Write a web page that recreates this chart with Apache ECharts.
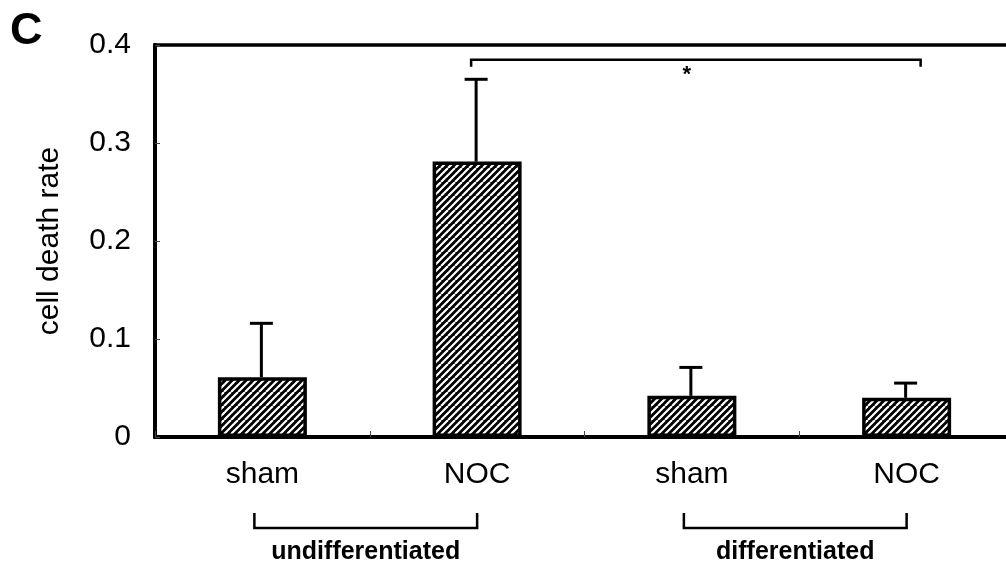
<!DOCTYPE html>
<html>
<head>
<meta charset="utf-8">
<script src="https://cdn.jsdelivr.net/npm/echarts@6/dist/echarts.min.js"></script>
<style>
  html, body { margin: 0; padding: 0; background: #fff; }
  #chart { width: 1006px; height: 570px; }
</style>
</head>
<body>
<div id="chart"></div>
<script>
// data
var categories = ['sham', 'NOC', 'sham', 'NOC'];
var means = [0.061, 0.281, 0.042, 0.040];
var errors = [0.055, 0.084, 0.029, 0.015];
var yTickLabels = ['0', '0.1', '0.2', '0.3', '0.4'];
var groupLabels = ['undifferentiated', 'differentiated'];
var groupStart = [0, 2];
var groupEnd = [1, 3];
var sigPair = [1, 3];
var sigLevel = 0.385;
var sigMark = '*';

var FONT = '"Liberation Sans", Arial, Helvetica, sans-serif';

// hatch pattern: black with white "/" stripes
function hatch() {
  var T = 14;
  var c = document.createElement('canvas');
  c.width = T; c.height = T;
  var ctx = c.getContext('2d');
  ctx.fillStyle = '#000';
  ctx.fillRect(0, 0, T, T);
  ctx.strokeStyle = '#fff';
  ctx.lineWidth = 2.2;
  for (var o = -T; o <= T; o += T / 2) {
    ctx.beginPath();
    ctx.moveTo(o, T);
    ctx.lineTo(o + T, 0);
    ctx.stroke();
  }
  return c;
}

var chart = echarts.init(document.getElementById('chart'));

var option = {
  animation: false,
  backgroundColor: '#fff',
  title: {
    text: 'C',
    left: 10,
    top: 9,
    padding: 0,
    textStyle: { fontSize: 45, fontWeight: 'bold', fontFamily: FONT, color: '#000' }
  },
  grid: {
    left: 155,
    top: 45,
    width: 859,
    height: 392,
    outerBoundsMode: 'none',
    containLabel: false,
    show: true,
    borderColor: '#000',
    borderWidth: 3.5,
    backgroundColor: 'transparent'
  },
  xAxis: {
    type: 'category',
    data: categories,
    axisLine: { lineStyle: { color: '#000', width: 4 } },
    axisTick: { show: true, inside: true, length: 6, interval: 0, lineStyle: { color: '#444', width: 1 } },
    axisLabel: { margin: 23, fontSize: 30, fontFamily: FONT, color: '#000' },
    splitLine: { show: false }
  },
  yAxis: {
    type: 'value',
    min: 0,
    max: 0.4,
    interval: 0.1,
    name: 'cell death rate',
    nameLocation: 'middle',
    nameRotate: 90,
    nameGap: 90,
    nameTextStyle: { fontSize: 30, fontFamily: FONT, color: '#000' },
    axisLine: { show: true, lineStyle: { color: '#000', width: 4 } },
    axisTick: { show: true, inside: true, length: 5, lineStyle: { color: '#444', width: 1 } },
    axisLabel: {
      margin: 24,
      fontSize: 30,
      fontFamily: FONT,
      color: '#000',
      formatter: function (v) { return yTickLabels[Math.round(v * 10)]; }
    },
    splitLine: { show: false }
  },
  series: [
    {
      type: 'bar',
      data: means,
      barWidth: 89,
      itemStyle: {
        color: { image: hatch(), repeat: 'repeat' },
        borderColor: '#000',
        borderWidth: 3.5
      },
      z: 3
    },
    {
      // error bars (upper only)
      type: 'custom',
      data: means.map(function (m, i) { return [i, m, errors[i]]; }),
      z: 2,
      renderItem: function (params, api) {
        var base = api.coord([api.value(0), api.value(1)]);
        var top = api.coord([api.value(0), api.value(1) + api.value(2)]);
        var x = base[0] - 1;
        return {
          type: 'group',
          children: [
            { type: 'line', shape: { x1: x, y1: base[1], x2: x, y2: top[1] }, style: { stroke: '#000', lineWidth: 3 } },
            { type: 'line', shape: { x1: x - 11.5, y1: top[1], x2: x + 11.5, y2: top[1] }, style: { stroke: '#000', lineWidth: 3 } }
          ]
        };
      }
    },
    {
      // significance bracket
      type: 'custom',
      clip: false,
      data: [[sigPair[0], sigLevel, sigPair[1]]],
      renderItem: function (params, api) {
        var a = api.coord([api.value(0), api.value(1)]);
        var b = api.coord([api.value(2), api.value(1)]);
        var x1 = a[0] - 6, x2 = b[0] + 14, y = a[1];
        return {
          type: 'group',
          children: [
            { type: 'polyline', shape: { points: [[x1, y + 7], [x1, y], [x2, y], [x2, y + 7]] }, style: { stroke: '#000', lineWidth: 2.5, fill: null } },
            { type: 'text', style: { text: sigMark, x: (a[0] + b[0]) / 2 - 5, y: y + 15, align: 'center', verticalAlign: 'middle', font: 'bold 22px ' + FONT, fill: '#000' } }
          ]
        };
      }
    },
    {
      // group brackets below the axis
      type: 'custom',
      clip: false,
      data: groupStart.map(function (s, i) { return [s, 0, groupEnd[i], i]; }),
      renderItem: function (params, api) {
        var a = api.coord([api.value(0), 0]);
        var b = api.coord([api.value(2), 0]);
        var x1 = a[0] - 8, x2 = b[0], y0 = a[1];
        return {
          type: 'group',
          children: [
            { type: 'polyline', shape: { points: [[x1, y0 + 76], [x1, y0 + 91], [x2, y0 + 91], [x2, y0 + 76]] }, style: { stroke: '#000', lineWidth: 2.5, fill: null } },
            { type: 'text', style: { text: groupLabels[api.value(3)], x: (x1 + x2) / 2, y: y0 + 115, align: 'center', verticalAlign: 'middle', font: 'bold 25px ' + FONT, fill: '#000' } }
          ]
        };
      }
    }
  ]
};

chart.setOption(option);
</script>
</body>
</html>
